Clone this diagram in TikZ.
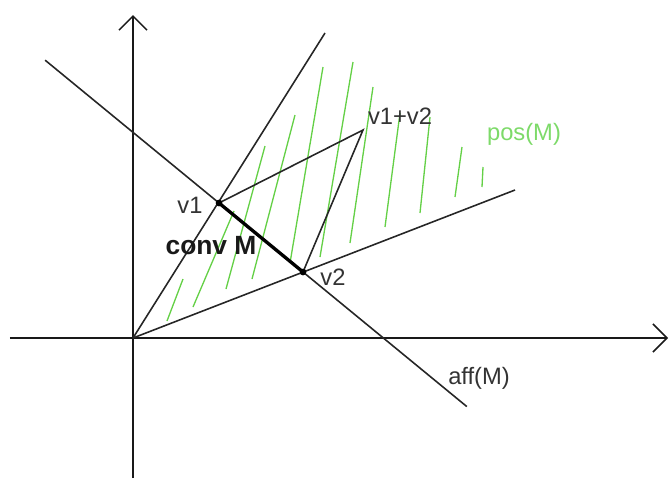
\documentclass[tikz,border=0pt]{standalone}
\usepackage{fontspec}
\setmainfont{Liberation Sans}
\usetikzlibrary{arrows.meta,calc}

\definecolor{hatchgreen}{RGB}{100,208,70}
\definecolor{posgreen}{RGB}{125,218,105}
\tikzset{
  axis/.style={line width=0.9pt,black!90,-{Straight Barb[length=2.8mm,width=5.6mm]}},
  ray/.style={line width=0.9pt,black!85},
  hatch/.style={line width=0.75pt,hatchgreen},
  lbl/.style={font=\fontsize{13.5}{16}\selectfont,text=black!80,inner sep=1pt},
  vdot/.style={circle,fill=black,inner sep=0pt,minimum size=1.3mm}
}

\begin{document}
\begin{tikzpicture}
\useasboundingbox (-2.66,-2.84) rectangle (10.74,6.76);
% points
\coordinate (O) at (0,0);
\coordinate (xl) at (-2.46,0);
\coordinate (xr) at (10.70,0);
\coordinate (yb) at (0,-2.80);
\coordinate (yt) at (0,6.46);
\coordinate (r1) at (3.84,6.10);
\coordinate (r2) at (7.64,2.96);
\coordinate (v12) at (4.60,4.16);
\node[vdot] (v1) at (1.72,2.70) {};
\node[vdot] (v2) at (3.40,1.32) {};
\coordinate (a1) at ($(v1.center)!-2.07!(v2.center)$);
\coordinate (a2) at ($(v1.center)!2.95!(v2.center)$);
% hatching of pos(M)
\draw[hatch] (0.68,0.34) -- (1.00,1.18);
\draw[hatch] (1.20,0.62) -- (2.02,2.54);
\draw[hatch] (1.86,0.98) -- (2.64,3.84);
\draw[hatch] (2.38,1.18) -- (3.24,4.46);
\draw[hatch] (3.14,1.50) -- (3.80,5.42);
\draw[hatch] (3.74,1.62) -- (4.40,5.52);
\draw[hatch] (4.34,1.90) -- (4.80,5.02);
\draw[hatch] (5.04,2.22) -- (5.34,4.50);
\draw[hatch] (5.74,2.50) -- (5.94,4.42);
\draw[hatch] (6.44,2.82) -- (6.58,3.82);
\draw[hatch] (6.98,3.02) -- (7.00,3.42);
% axes
\draw[axis] (xl) -- (xr);
\draw[axis] (yb) -- (yt);
% cone, parallelogram, affine hull
\draw[ray] (O) -- (r1);
\draw[ray] (O) -- (r2);
\draw[ray] (v1.center) -- (v12) -- (v2.center);
\draw[ray] (a1) -- (a2);
\draw[line width=1.9pt,black] (v1.center) -- (v2.center);
\node[vdot] at (v1) {};
\node[vdot] at (v2) {};
% labels
\node[lbl] (tv1) at (1.14,2.66) {v1};
\node[lbl,font={\fontsize{15}{18}\selectfont\bfseries},text=black!90] (tconv) at (1.56,1.84) {conv M};
\node[lbl] (tv2) at (4.00,1.22) {v2};
\node[lbl] (tv12) at (5.34,4.44) {v1+v2};
\node[lbl,text=posgreen] (tpos) at (7.82,4.08) {pos(M)};
\node[lbl] (taff) at (6.92,-0.80) {aff(M)};
\end{tikzpicture}
\end{document}
